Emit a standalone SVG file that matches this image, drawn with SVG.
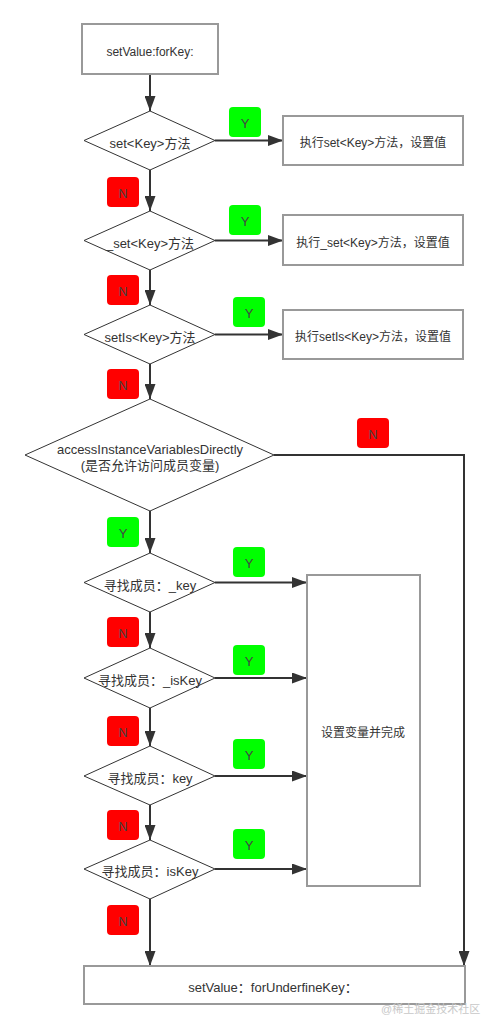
<svg xmlns="http://www.w3.org/2000/svg" width="489" height="1029" viewBox="0 0 489 1029">
<style>
text{font-family:"Liberation Sans","Noto Sans CJK SC",sans-serif;font-size:12px;fill:#333;text-anchor:middle;dominant-baseline:central}
.box{fill:#fff;stroke:#999;stroke-width:2}
.dia{fill:#fff;stroke:#333;stroke-width:1}
.dt{font-size:13px}
.y{fill:#00ff00}
.n{fill:#ff0000}
.badge text{fill:#444;font-size:13px}
.c{fill:none;stroke:#333;stroke-width:2;marker-end:url(#ah)}
.wm{fill:#c8c8c8;font-size:11px;text-anchor:start}
</style>
<defs>
<marker id="ah" markerUnits="userSpaceOnUse" markerWidth="15" markerHeight="11" refX="15" refY="5.5" orient="auto">
<path d="M0,0 L15,5.5 L0,11 z" fill="#333"/>
</marker>
</defs>
<g id="connectors">
<path class="c" d="M150,74 V111"/>
<path class="c" d="M215,140.5 H283"/>
<path class="c" d="M150,170 V211"/>
<path class="c" d="M215,240.5 H283"/>
<path class="c" d="M150,270 V305"/>
<path class="c" d="M215,334.5 H283"/>
<path class="c" d="M150,364 V399"/>
<path class="c" d="M274,455 H464 V966"/>
<path class="c" d="M150,511 V553"/>
<path class="c" d="M215,582.5 H307"/>
<path class="c" d="M150,612 V648"/>
<path class="c" d="M215,678 H307"/>
<path class="c" d="M150,708 V746"/>
<path class="c" d="M215,776 H307"/>
<path class="c" d="M150,805 V840"/>
<path class="c" d="M215,869 H307"/>
<path class="c" d="M150,899 V966"/>
</g>
<g id="start"><rect class="box" x="82" y="24" width="136" height="50"/><text x="150" y="52">setValue:forKey:</text></g>
<g id="d1"><polygon class="dia" points="150,111 215,140.5 150,170 84,140.5"/><text class="dt" x="150" y="143">set&lt;Key&gt;方法</text></g>
<g id="r1"><rect class="box" x="283" y="116" width="180" height="49"/><text x="373" y="143">执行set&lt;Key&gt;方法，设置值</text></g>
<g id="d2"><polygon class="dia" points="150,211 215,240.5 150,270 84,240.5"/><text class="dt" x="150" y="243">_set&lt;Key&gt;方法</text></g>
<g id="r2"><rect class="box" x="283" y="215" width="180" height="50"/><text x="373" y="243">执行_set&lt;Key&gt;方法，设置值</text></g>
<g id="d3"><polygon class="dia" points="150,305 215,334.5 150,364 84,334.5"/><text class="dt" x="150" y="337">setIs&lt;Key&gt;方法</text></g>
<g id="r3"><rect class="box" x="283" y="310" width="180" height="49"/><text x="373" y="337">执行setIs&lt;Key&gt;方法，设置值</text></g>
<g id="d4"><polygon class="dia" points="150,399 274,455 150,511 25,455"/><text class="dt" x="150" y="449">accessInstanceVariablesDirectly</text><text class="dt" x="150" y="465">(是否允许访问成员变量)</text></g>
<g id="d5"><polygon class="dia" points="150,553 215,582.5 150,612 84,582.5"/><text class="dt" x="150" y="585">寻找成员：_key</text></g>
<g id="d6"><polygon class="dia" points="150,648 215,678 150,708 84,678"/><text class="dt" x="150" y="680">寻找成员：_isKey</text></g>
<g id="d7"><polygon class="dia" points="150,746 215,776 150,805 84,776"/><text class="dt" x="150" y="778">寻找成员：key</text></g>
<g id="d8"><polygon class="dia" points="150,840 215,869 150,899 84,869"/><text class="dt" x="150" y="871">寻找成员：isKey</text></g>
<g id="setvar"><rect class="box" x="307" y="575" width="113" height="311"/><text x="363" y="733">设置变量并完成</text></g>
<g id="undefined"><rect class="box" x="84" y="966" width="381" height="38"/><text class="dt" x="273" y="987">setValue：forUnderfineKey：</text></g>
<g class="badge" id="badges">
<rect class="y" x="229" y="107" width="32" height="30" rx="4"/><text x="245" y="123">Y</text>
<rect class="n" x="107" y="177" width="32" height="30" rx="4"/><text x="123" y="193">N</text>
<rect class="y" x="229" y="205" width="32" height="30" rx="4"/><text x="245" y="221">Y</text>
<rect class="n" x="107" y="275" width="32" height="30" rx="4"/><text x="123" y="291">N</text>
<rect class="y" x="233" y="297" width="32" height="30" rx="4"/><text x="249" y="313">Y</text>
<rect class="n" x="107" y="369" width="32" height="30" rx="4"/><text x="123" y="385">N</text>
<rect class="n" x="357" y="418" width="32" height="30" rx="4"/><text x="373" y="434">N</text>
<rect class="y" x="107" y="517" width="32" height="30" rx="4"/><text x="123" y="533">Y</text>
<rect class="y" x="233" y="547" width="32" height="30" rx="4"/><text x="249" y="563">Y</text>
<rect class="n" x="107" y="617" width="32" height="30" rx="4"/><text x="123" y="633">N</text>
<rect class="y" x="233" y="645" width="32" height="30" rx="4"/><text x="249" y="661">Y</text>
<rect class="n" x="107" y="716" width="32" height="30" rx="4"/><text x="123" y="732">N</text>
<rect class="y" x="233" y="739" width="32" height="30" rx="4"/><text x="249" y="755">Y</text>
<rect class="n" x="107" y="810" width="32" height="30" rx="4"/><text x="123" y="826">N</text>
<rect class="y" x="233" y="829" width="32" height="30" rx="4"/><text x="249" y="845">Y</text>
<rect class="n" x="107" y="905" width="32" height="30" rx="4"/><text x="123" y="921">N</text>
</g>
<text class="wm" x="381" y="1009">@稀土掘金技术社区</text>
</svg>
